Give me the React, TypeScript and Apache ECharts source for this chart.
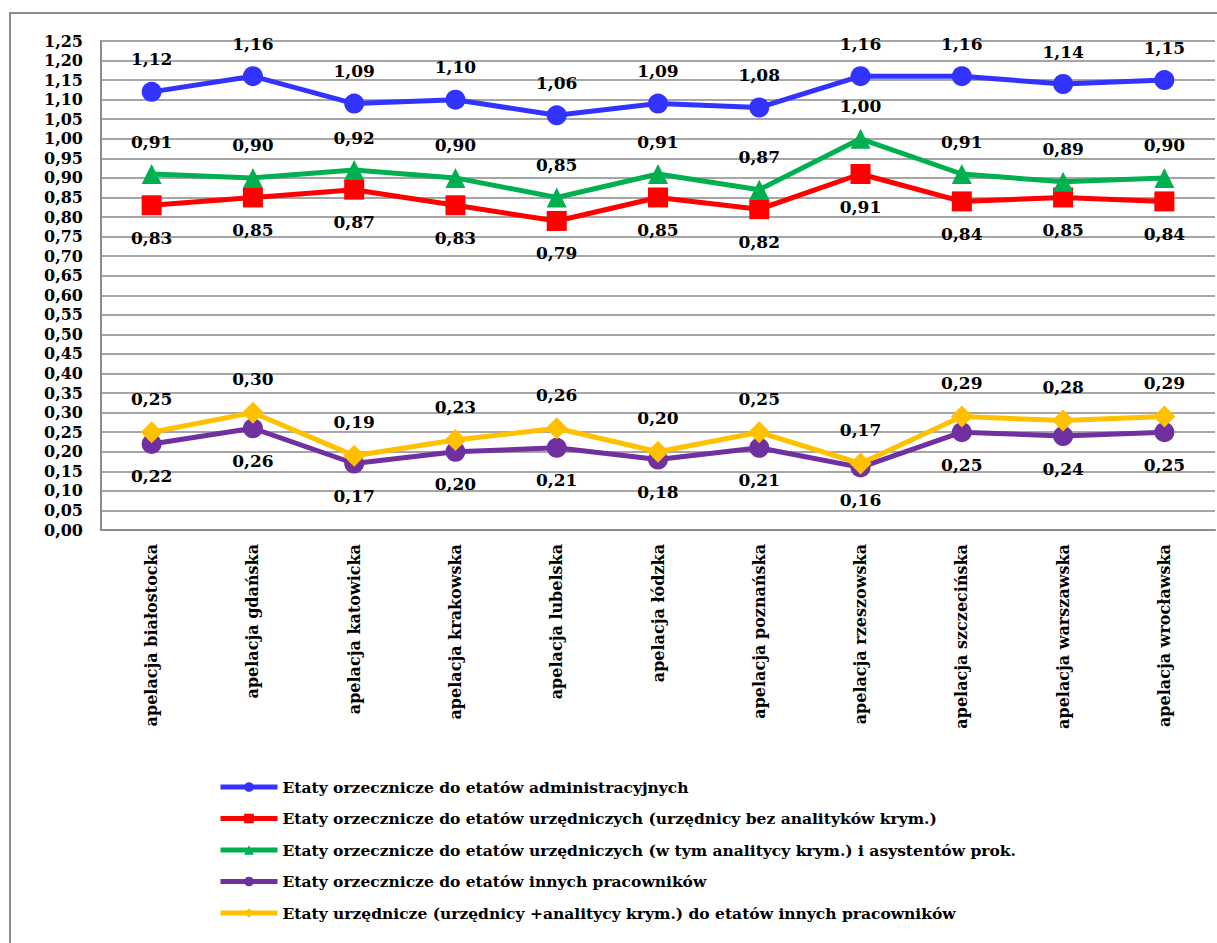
import React, { useEffect, useRef } from "react";
import * as echarts from "echarts";

const categories = [
  "apelacja białostocka",
  "apelacja gdańska",
  "apelacja katowicka",
  "apelacja krakowska",
  "apelacja lubelska",
  "apelacja łódzka",
  "apelacja poznańska",
  "apelacja rzeszowska",
  "apelacja szczecińska",
  "apelacja warszawska",
  "apelacja wrocławska",
];

const seriesNames = [
  "Etaty orzecznicze do etatów administracyjnych",
  "Etaty orzecznicze do etatów urzędniczych (urzędnicy bez analityków krym.)",
  "Etaty orzecznicze do etatów urzędniczych (w tym analitycy krym.) i asystentów prok.",
  "Etaty orzecznicze do etatów innych pracowników",
  "Etaty urzędnicze (urzędnicy +analitycy krym.) do etatów innych pracowników",
];

const adminValues = [1.12, 1.16, 1.09, 1.1, 1.06, 1.09, 1.08, 1.16, 1.16, 1.14, 1.15];
const clerkValues = [0.83, 0.85, 0.87, 0.83, 0.79, 0.85, 0.82, 0.91, 0.84, 0.85, 0.84];
const clerkAnalystValues = [0.91, 0.9, 0.92, 0.9, 0.85, 0.91, 0.87, 1.0, 0.91, 0.89, 0.9];
const otherValues = [0.22, 0.26, 0.17, 0.2, 0.21, 0.18, 0.21, 0.16, 0.25, 0.24, 0.25];
const clerkOtherValues = [0.25, 0.3, 0.19, 0.23, 0.26, 0.2, 0.25, 0.17, 0.29, 0.28, 0.29];

const FONT = "DejaVu Serif";
const fmt = (v: number) => v.toFixed(2).replace(".", ",");

export default function App() {
  const ref = useRef<HTMLDivElement>(null);
  useEffect(() => {
    if (!ref.current) return;
    const chart = echarts.init(ref.current, null, { renderer: "svg" });
    const mk = (
      name: string,
      data: number[],
      color: string,
      symbol: string,
      size: number,
      pos: "top" | "bottom"
    ) => ({
      name,
      type: "line",
      data,
      symbol,
      symbolSize: size,
      itemStyle: { color },
      lineStyle: { color, width: 5 },
      label: {
        show: true,
        position: pos,
        distance: 14,
        formatter: (p: any) => fmt(p.value),
        fontFamily: FONT,
        fontWeight: "bold",
        fontSize: 17,
        color: "#000",
      },
    });
    chart.setOption({
      animation: false,
      backgroundColor: "#fff",
      textStyle: { fontFamily: FONT },
      grid: { left: 101, right: 2, top: 41, bottom: 413, containLabel: false },
      xAxis: {
        type: "category",
        data: categories,
        boundaryGap: true,
        axisLine: { show: true, lineStyle: { color: "#8c8c8c", width: 2 } },
        axisTick: { show: false },
        axisLabel: {
          rotate: 90,
          interval: 0,
          margin: 14,
          fontFamily: FONT,
          fontWeight: "bold",
          fontSize: 16,
          color: "#000",
        },
      },
      yAxis: {
        type: "value",
        min: 0,
        max: 1.25,
        interval: 0.05,
        axisLine: { show: true, lineStyle: { color: "#8c8c8c", width: 2 } },
        axisTick: { show: false },
        splitLine: { show: true, lineStyle: { color: "#a6a6a6", width: 2 } },
        axisLabel: {
          margin: 18,
          formatter: (v: number) => fmt(v),
          fontFamily: FONT,
          fontWeight: "bold",
          fontSize: 16,
          color: "#000",
          lineHeight: 18,
        },
      },
      legend: {
        orient: "vertical",
        left: 213,
        top: 773,
        itemWidth: 57,
        itemHeight: 12,
        itemGap: 13.5,
        lineStyle: { width: 5 },
        textStyle: {
          fontFamily: FONT,
          fontWeight: "bold",
          fontSize: 15.5,
          lineHeight: 18,
          color: "#000",
        },
        data: seriesNames,
      },
      graphic: [
        {
          type: "polyline",
          shape: { points: [[10, 943], [10, 13], [1217, 13]] },
          style: { stroke: "#8c8c8c", lineWidth: 2, fill: "none" },
          silent: true,
        },
      ],
      series: [
        mk(seriesNames[0], adminValues, "#3333ff", "circle", 20, "top"),
        mk(seriesNames[1], clerkValues, "#ff0000", "rect", 20, "bottom"),
        mk(seriesNames[2], clerkAnalystValues, "#00b050", "triangle", 20, "top"),
        mk(seriesNames[3], otherValues, "#7030a0", "circle", 20, "bottom"),
        mk(seriesNames[4], clerkOtherValues, "#ffc000", "diamond", 22, "top"),
      ],
    });
    return () => chart.dispose();
  }, []);
  return (
    <div
      ref={ref}
      style={{ position: "fixed", left: 0, top: 0, width: 1217, height: 943 }}
    />
  );
}
